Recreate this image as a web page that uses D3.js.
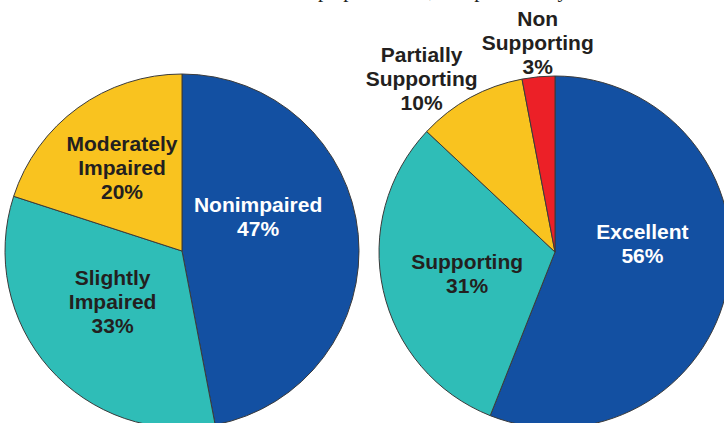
<!DOCTYPE html>
<html lang="en">

<head>
  <meta charset="utf-8">
  <title>Two pies</title>
  <script type="text/javascript" src="https://d3js.org/d3.v7.min.js"></script>
  <style type="text/css">
    body {
      margin: 0;
      background: #fff;
    }

    .label {
      font-family: "Liberation Sans", Arial, Helvetica, sans-serif;
      font-weight: bold;
      font-size: 21px;
      text-anchor: middle;
    }
  </style>
</head>

<body>
  <div id="graphic"></div>
  <script type="text/javascript">

    //Left pie data
    const leftCategories = ["Nonimpaired", "Slightly Impaired", "Moderately Impaired"];
    const leftValues = [47, 33, 20];

    //Right pie data
    const rightCategories = ["Excellent", "Supporting", "Partially Supporting", "Non Supporting"];
    const rightValues = [56, 31, 10, 3];

    //Colours and label nudges (layout only)
    const leftColors = ["#1350A2", "#2FBDB7", "#F9C31F"];
    const rightColors = ["#1350A2", "#2FBDB7", "#F9C31F", "#EC2027"];
    const leftNudge = [[-12, -26], [-3, -8], [-8, -12]];
    const rightNudge = [[1, -25], [-2, 2], [-91, -96], [-9, -122]];

    const width = 724, height = 423;

    const svg = d3.select("#graphic")
      .append("svg")
      .attr("width", width)
      .attr("height", height);

    //Cut-off caption line above the charts (only descenders show)
    svg.append("text")
      .attr("x", 318)
      .attr("y", -3)
      .attr("textLength", 250)
      .style("font-family", "'Liberation Serif', 'Times New Roman', serif")
      .style("font-size", "21px")
      .style("fill", "#231F20")
      .text("population, respectively");

    //Draw one pie with its labels
    function drawPie(categories, values, colors, nudges, cx, cy, r) {
      const pie = d3.pie().sort(null).value(d => d.value);
      const arc = d3.arc().innerRadius(0).outerRadius(r);

      const data = categories.map((c, i) => ({ name: c, value: values[i], color: colors[i], nudge: nudges[i] }));

      const g = svg.append("g").attr("transform", `translate(${cx},${cy})`);

      const arcs = pie(data);

      g.selectAll("path")
        .data(arcs)
        .enter()
        .append("path")
        .attr("d", arc)
        .style("fill", d => d.data.color)
        .style("stroke", "#3b3b3b")
        .style("stroke-width", 1);

      const lineHeight = 24, capH = 15;

      arcs.forEach(d => {
        const c = arc.centroid(d);
        const x = c[0] + d.data.nudge[0];
        const y = c[1] + d.data.nudge[1];
        //Split name into lines, percent on the last line
        let lines;
        if (d.data.name == "Nonimpaired" || d.data.name == "Excellent" || d.data.name == "Supporting") {
          lines = [d.data.name];
        } else {
          lines = d.data.name.split(" ");
        }
        lines.push(d.data.value + "%");
        const n = lines.length;
        const firstBase = y - (n - 1) * lineHeight / 2 + capH / 2;
        const fill = d.data.color == "#1350A2" && d.startAngle < Math.PI ? "#ffffff" : "#231F20";
        const t = g.append("text").attr("class", "label").style("fill", fill);
        lines.forEach((l, i) => {
          t.append("tspan")
            .attr("x", x)
            .attr("y", firstBase + i * lineHeight)
            .text(l);
        });
      });
    }

    drawPie(leftCategories, leftValues, leftColors, leftNudge, 182, 251, 177);
    drawPie(rightCategories, rightValues, rightColors, rightNudge, 555, 252, 176);

  </script>
</body>

</html>
